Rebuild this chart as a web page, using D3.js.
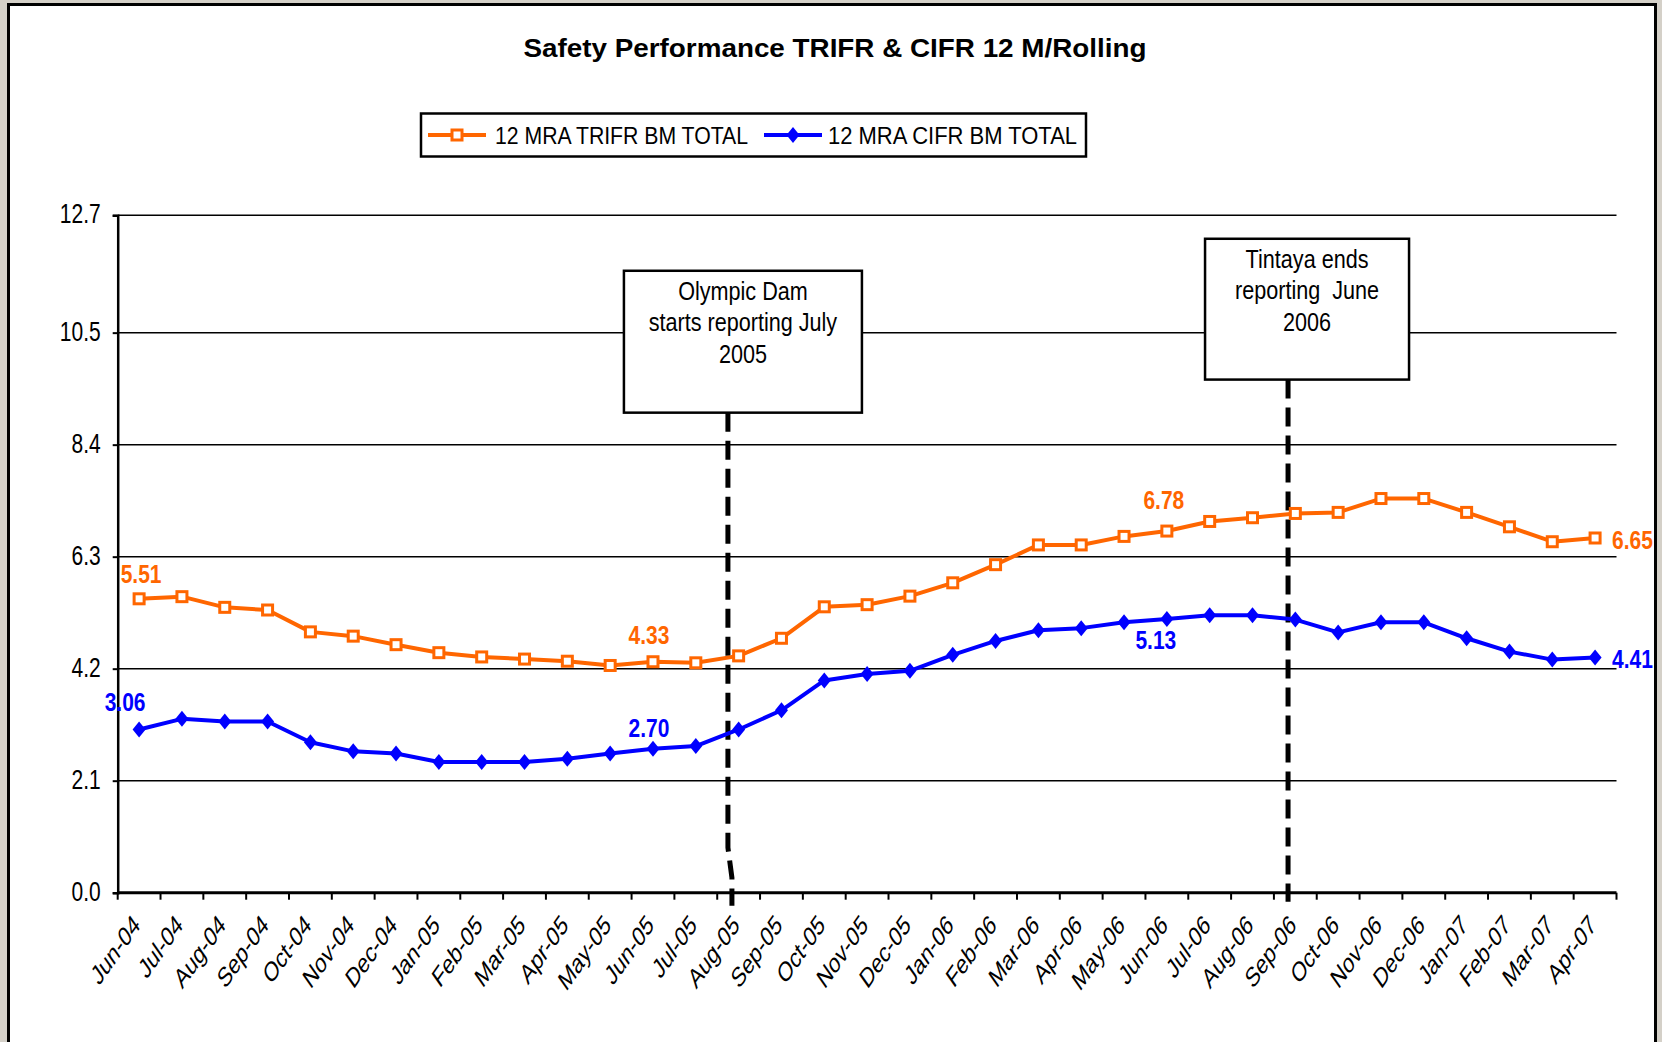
<!DOCTYPE html>
<html>
<head>
<meta charset="utf-8">
<script src="https://cdn.jsdelivr.net/npm/d3@7"></script>
<style>
  body { margin: 0; background: #d4d0c8; }
  svg { display: block; font-family: Arial, "Liberation Sans", sans-serif; }
</style>
</head>
<body>
<svg id="chart" width="1662" height="1042"></svg>
<script>
// categories and series
const months = ["Jun-04","Jul-04","Aug-04","Sep-04","Oct-04","Nov-04","Dec-04",
  "Jan-05","Feb-05","Mar-05","Apr-05","May-05","Jun-05","Jul-05","Aug-05","Sep-05","Oct-05","Nov-05","Dec-05",
  "Jan-06","Feb-06","Mar-06","Apr-06","May-06","Jun-06","Jul-06","Aug-06","Sep-06","Oct-06","Nov-06","Dec-06",
  "Jan-07","Feb-07","Mar-07","Apr-07"];

const trifr = [5.51,5.55,5.35,5.30,4.89,4.81,4.65,4.50,4.42,4.38,4.34,4.26,4.33,4.31,4.44,4.77,5.36,5.40,5.56,
  5.81,6.15,6.52,6.52,6.68,6.78,6.96,7.03,7.11,7.13,7.39,7.39,7.13,6.86,6.58,6.65];

const cifr = [3.06,3.26,3.21,3.21,2.82,2.65,2.61,2.45,2.45,2.45,2.51,2.61,2.70,2.75,3.06,3.42,3.98,4.10,4.16,
  4.46,4.72,4.92,4.96,5.07,5.13,5.20,5.20,5.12,4.88,5.07,5.07,4.77,4.52,4.37,4.41];

const yTicks = [0, 2.1, 4.2, 6.3, 8.4, 10.5, 12.7];

// points that carry a value label
const trifrLabelled = [0, 12, 24, 34];
const cifrLabelled = [0, 12, 24, 34];

// annotation boxes: category position of the dashed line, box top/bottom in axis units
const notes = [
  {lines: ["Olympic Dam", "starts reporting July", "2005"], at: 13.75, top: 11.66, bottom: 9.0},
  {lines: ["Tintaya ends", "reporting  June", "2006"], at: 26.83, top: 12.26, bottom: 9.62}
];

const orange = "#ff6600";
const blue = "#0000ff";

const svg = d3.select("#chart");

// the source picture is a little taller than wide, so text is stretched upwards
function stretch(sel, sx, sy) {
  sel.each(function() {
    const t = d3.select(this);
    const tx = +t.attr("x") || 0, ty = +t.attr("y") || 0;
    t.attr("x", 0).attr("y", 0)
      .attr("transform", "translate(" + tx + "," + ty + ") scale(" + sx + "," + sy + ")");
  });
}

//outer frame
svg.append("rect")
  .attr("x", 8.5).attr("y", 4.5)
  .attr("width", 1647).attr("height", 1060)
  .attr("fill", "#fff").attr("stroke", "#000").attr("stroke-width", 3);

const plot = {left: 117.7, right: 1616.5, top: 215.3, bottom: 892.7};

const x = d3.scaleBand().domain(months).range([plot.left, plot.right]).padding(0);
const xAt = f => plot.left + (f + 0.5) * x.bandwidth();
const y = d3.scaleLinear().domain([0, 12.7]).range([plot.bottom, plot.top]);

// title
svg.append("text")
  .attr("x", 835).attr("y", 57)
  .attr("text-anchor", "middle")
  .attr("font-size", 25).attr("font-weight", "bold")
  .attr("textLength", 623).attr("lengthAdjust", "spacingAndGlyphs")
  .text("Safety Performance TRIFR & CIFR 12 M/Rolling");

// gridlines
svg.append("g")
  .selectAll("line")
  .data(yTicks.filter(d => d > 0))
  .enter().append("line")
  .attr("x1", plot.left).attr("x2", plot.right)
  .attr("y1", d => y(d)).attr("y2", d => y(d))
  .attr("stroke", "#000").attr("stroke-width", 1.5);

// y axis
const yAxis = svg.append("g")
  .attr("transform", "translate(" + plot.left + ",0)")
  .call(d3.axisLeft(y).tickValues(yTicks).tickFormat(d3.format(".1f")).tickSize(5).tickPadding(12));
yAxis.select(".domain").attr("stroke-width", 2.5);
yAxis.selectAll(".tick line").attr("stroke-width", 2);
yAxis.selectAll("text").attr("font-size", 21).attr("fill", "#000")
  .attr("font-family", "Arial, 'Liberation Sans', sans-serif")
  .attr("dy", "0.28em");
stretch(yAxis.selectAll("text"), 1, 1.3);

// x axis line and boundary ticks
const xAxis = svg.append("g");
xAxis.append("line")
  .attr("x1", plot.left).attr("x2", plot.right)
  .attr("y1", plot.bottom).attr("y2", plot.bottom)
  .attr("stroke", "#000").attr("stroke-width", 3);
xAxis.selectAll("line.tk")
  .data(d3.range(months.length + 1))
  .enter().append("line")
  .attr("class", "tk")
  .attr("x1", i => plot.left + i * x.bandwidth()).attr("x2", i => plot.left + i * x.bandwidth())
  .attr("y1", plot.bottom).attr("y2", plot.bottom + 7)
  .attr("stroke", "#000").attr("stroke-width", 2);
xAxis.selectAll("text")
  .data(months)
  .enter().append("text")
  .attr("transform", d => "translate(" + (x(d) + x.bandwidth() / 2 + 2) + "," + (plot.bottom + 34) + ") scale(1,1.42) rotate(-45)")
  .attr("text-anchor", "end")
  .attr("font-size", 19.5)
  .text(d => d);

// annotation boxes and dashed lines
notes.forEach(function(n, k) {
  const lx = xAt(n.at);
  const cx = lx + (k === 0 ? 15 : 19);
  const w = k === 0 ? 238 : 204;
  const g = svg.append("g");
  let path;
  if (k === 0) {
    path = "M" + lx + "," + y(n.bottom) + "V" + (plot.bottom - 45) +
      "L" + (lx + 4) + "," + (plot.bottom - 15) + "V" + (plot.bottom + 13);
  } else {
    path = "M" + lx + "," + y(n.bottom) + "V" + (plot.bottom + 9);
  }
  g.append("path")
    .attr("d", path)
    .attr("fill", "none").attr("stroke", "#000")
    .attr("stroke-width", 5).attr("stroke-dasharray", "19,9");
  g.append("rect")
    .attr("x", cx - w / 2).attr("y", y(n.top))
    .attr("width", w).attr("height", y(n.bottom) - y(n.top))
    .attr("fill", "#fff").attr("stroke", "#000").attr("stroke-width", 2.5);
  const t = g.selectAll("text")
    .data(n.lines)
    .enter().append("text")
    .attr("x", cx)
    .attr("y", (d, i) => y(n.top) + 29 + i * 31.5)
    .attr("text-anchor", "middle")
    .attr("font-size", 20)
    .style("white-space", "pre")
    .text(d => d);
  stretch(t, 1.08, 1.25);
});

// series lines
const line = d3.line()
  .x((d, i) => x(months[i]) + x.bandwidth() / 2)
  .y(d => y(d));

svg.append("path").datum(trifr)
  .attr("d", line).attr("fill", "none")
  .attr("stroke", orange).attr("stroke-width", 4).attr("stroke-linejoin", "round");
svg.append("path").datum(cifr)
  .attr("d", line).attr("fill", "none")
  .attr("stroke", blue).attr("stroke-width", 4).attr("stroke-linejoin", "round");

const diamond = "M0,-8L6.5,0L0,8L-6.5,0Z";

svg.append("g").selectAll("rect")
  .data(trifr)
  .enter().append("rect")
  .attr("x", (d, i) => x(months[i]) + x.bandwidth() / 2 - 5)
  .attr("y", d => y(d) - 5)
  .attr("width", 10).attr("height", 10)
  .attr("fill", "#fff").attr("stroke", orange).attr("stroke-width", 3);

svg.append("g").selectAll("path")
  .data(cifr)
  .enter().append("path")
  .attr("d", diamond)
  .attr("transform", (d, i) => "translate(" + (x(months[i]) + x.bandwidth() / 2) + "," + y(d) + ")")
  .attr("fill", blue);

// value labels
function label(values, idx, color, place) {
  const t = svg.append("g").selectAll("text")
    .data(idx)
    .enter().append("text")
    .attr("x", (i, k) => x(months[i]) + x.bandwidth() / 2 + place[k][0])
    .attr("y", (i, k) => y(values[i]) + place[k][1])
    .attr("text-anchor", (i, k) => place[k][2])
    .attr("font-size", 20).attr("font-weight", "bold")
    .attr("fill", color)
    .text(i => values[i].toFixed(2));
  stretch(t, 1.05, 1.25);
}
label(trifr, trifrLabelled, orange, [[2, -16, "middle"], [-4, -18, "middle"], [-3, -22, "middle"], [17, 11, "start"]]);
label(cifr, cifrLabelled, blue, [[-14, -18, "middle"], [-4, -12, "middle"], [-11, 30, "middle"], [17, 11, "start"]]);

// legend
const legend = svg.append("g");
legend.append("rect")
  .attr("x", 421).attr("y", 113.5)
  .attr("width", 665).attr("height", 43)
  .attr("fill", "#fff").attr("stroke", "#000").attr("stroke-width", 2.5);
const items = [
  {name: "12 MRA TRIFR BM TOTAL", color: orange, x0: 428, tx: 495, tl: 253},
  {name: "12 MRA CIFR BM TOTAL", color: blue, x0: 764, tx: 828, tl: 249}
];
items.forEach(function(it, k) {
  legend.append("line")
    .attr("x1", it.x0).attr("x2", it.x0 + 58)
    .attr("y1", 135).attr("y2", 135)
    .attr("stroke", it.color).attr("stroke-width", 4);
  if (k === 0) {
    legend.append("rect")
      .attr("x", it.x0 + 24).attr("y", 130)
      .attr("width", 10).attr("height", 10)
      .attr("fill", "#fff").attr("stroke", it.color).attr("stroke-width", 3);
  } else {
    legend.append("path")
      .attr("d", diamond)
      .attr("transform", "translate(" + (it.x0 + 29) + ",135)")
      .attr("fill", it.color);
  }
  const t = legend.append("text")
    .attr("x", it.tx).attr("y", 144)
    .attr("font-size", 21)
    .attr("textLength", it.tl).attr("lengthAdjust", "spacingAndGlyphs")
    .text(it.name);
  stretch(t, 1, 1.15);
});
</script>
</body>
</html>
